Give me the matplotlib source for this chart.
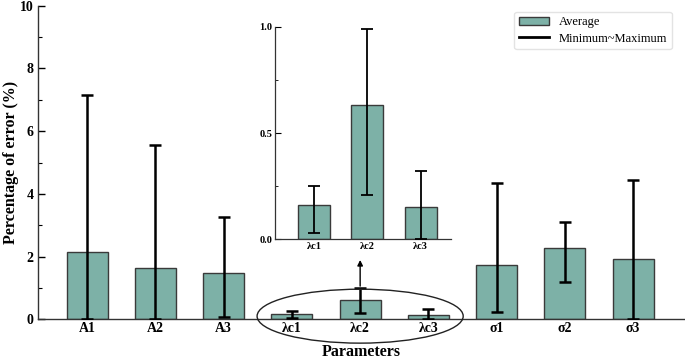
import matplotlib
matplotlib.use("Agg")
import matplotlib.pyplot as plt
from matplotlib.patches import Ellipse
from matplotlib.lines import Line2D
from matplotlib.patches import Patch
import numpy as np

# data
params = ["A1", "A2", "A3", "λc1", "λc2", "λc3", "σ1", "σ2", "σ3"]
avg = [2.15, 1.65, 1.48, 0.16, 0.63, 0.15, 1.74, 2.27, 1.91]
err_min = [0.0, 0.0, 0.06, 0.03, 0.21, 0.0, 0.23, 1.19, 0.02]
err_max = [7.16, 5.56, 3.27, 0.25, 0.99, 0.32, 4.34, 3.11, 4.44]

zoom_idx = [3, 4, 5]
y_ticks = [0, 2, 4, 6, 8, 10]
inset_ticks = [0.0, 0.5, 1.0]

bar_color = "#7db1a7"
edge_color = "#3a3a3a"

plt.rcParams["font.family"] = ["Liberation Serif", "DejaVu Serif"]
plt.rcParams["font.weight"] = "bold"

fig = plt.figure(figsize=(6.85, 3.61), dpi=100)
ax = fig.add_axes([0.0555, 0.1155, 0.9435, 0.8687])

x = np.arange(len(params))
avg_a = np.array(avg)
yerr = [avg_a - np.array(err_min), np.array(err_max) - avg_a]

ax.bar(x, avg, width=0.6, color=bar_color, edgecolor=edge_color, linewidth=1.0, zorder=2)
ax.errorbar(x, avg, yerr=yerr, fmt="none", ecolor="black", elinewidth=1.8,
            capsize=4, capthick=1.8, zorder=3)

ax.set_xlim(-0.72, 8.75)
ax.set_ylim(0, 10)
ax.set_xticks(x)
ax.set_xticklabels(params, fontsize=10, fontweight="bold")
ax.set_yticks(y_ticks)
ax.set_yticklabels([str(t) for t in y_ticks], fontsize=10, fontweight="bold")
ax.set_yticks(np.arange(1, 10, 2), minor=True)
ax.tick_params(axis="y", which="major", direction="in", length=5, width=1, pad=3)
ax.tick_params(axis="y", which="minor", direction="in", length=3, width=0.8)
ax.tick_params(axis="x", length=0, pad=2)
for s in ["top", "right"]:
    ax.spines[s].set_visible(False)
for s in ["left", "bottom"]:
    ax.spines[s].set_color("#333333")
    ax.spines[s].set_linewidth(1.0)

ax.set_ylabel("Percentage of error (%)", fontsize=11.5, fontweight="bold", labelpad=1)
ax.set_xlabel("Parameters", fontsize=11.5, fontweight="bold", labelpad=6.5)

# ellipse around the lambda group and arrow to inset
ell = Ellipse((4, 0.1), width=3.02, height=1.72, fill=False, edgecolor="#222222",
              linewidth=1.0, clip_on=False, zorder=4)
ax.add_patch(ell)
ax.annotate("", xy=(4, 1.98), xytext=(4, 0.97),
            arrowprops=dict(arrowstyle="-|>", color="black", lw=1.0, mutation_scale=8))

handles = [Patch(facecolor=bar_color, edgecolor=edge_color, linewidth=1.0),
           Line2D([0], [0], color="black", lw=2)]
leg = ax.legend(handles, ["Average", "Minimum~Maximum"], loc="upper right",
                bbox_to_anchor=(0.99, 1.0), prop={"size": 9, "weight": "normal"},
                frameon=True, fancybox=True, edgecolor="#dddddd", handlelength=2.4,
                borderpad=0.35, labelspacing=0.35, handletextpad=0.8)

# inset for the lambda parameters
ins = fig.add_axes([0.402, 0.337, 0.257, 0.589])
xi = np.arange(len(zoom_idx))
i_avg = np.array([avg[i] for i in zoom_idx])
i_min = np.array([err_min[i] for i in zoom_idx])
i_max = np.array([err_max[i] for i in zoom_idx])
ins.bar(xi, i_avg, width=0.6, color=bar_color, edgecolor=edge_color, linewidth=1.0, zorder=2)
ins.errorbar(xi, i_avg, yerr=[i_avg - i_min, i_max - i_avg], fmt="none", ecolor="black",
             elinewidth=1.3, capsize=4, capthick=1.3, zorder=3)
ins.set_xlim(-0.73, 2.58)
ins.set_ylim(0, 1.0)
ins.set_xticks(xi)
ins.set_xticklabels([params[i] for i in zoom_idx], fontsize=7.5, fontweight="bold")
ins.set_yticks(inset_ticks)
ins.set_yticklabels(["0.0", "0.5", "1.0"], fontsize=7.5, fontweight="bold")
ins.set_yticks([0.25, 0.75], minor=True)
ins.tick_params(axis="y", which="major", direction="in", length=4, width=0.8, pad=2)
ins.tick_params(axis="y", which="minor", direction="in", length=2, width=0.6)
ins.tick_params(axis="x", length=0, pad=2)
ins.patch.set_alpha(0)
for s in ["top", "right"]:
    ins.spines[s].set_visible(False)
for s in ["left", "bottom"]:
    ins.spines[s].set_color("#333333")
    ins.spines[s].set_linewidth(0.9)

fig.savefig("out.png", dpi=100)
